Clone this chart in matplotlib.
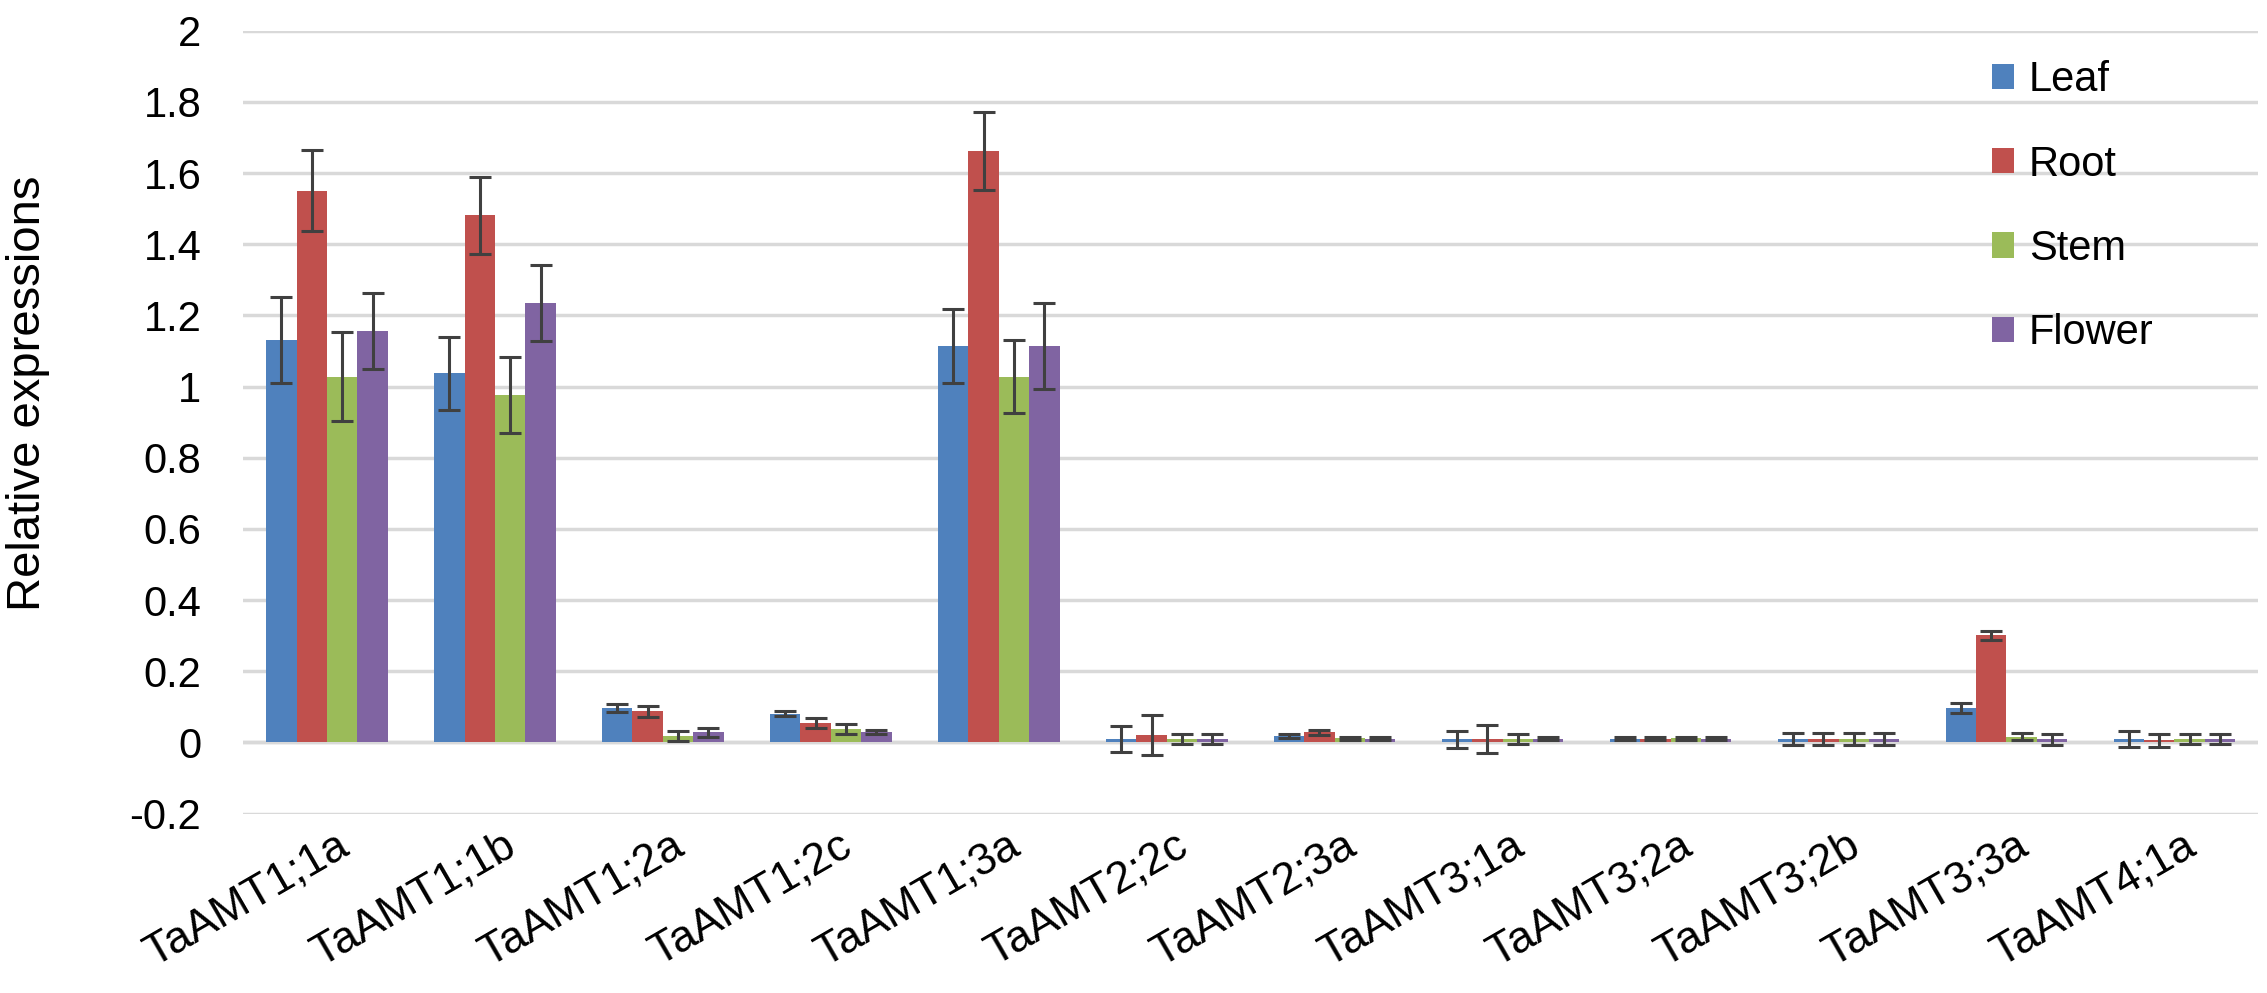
import numpy as np
import matplotlib
matplotlib.use("Agg")
import matplotlib.pyplot as plt
from matplotlib.patches import Patch
from matplotlib.transforms import ScaledTranslation

plt.rcParams['font.family'] = ['Liberation Sans', 'DejaVu Sans']

genes = ['TaAMT1;1a', 'TaAMT1;1b', 'TaAMT1;2a', 'TaAMT1;2c', 'TaAMT1;3a', 'TaAMT2;2c',
         'TaAMT2;3a', 'TaAMT3;1a', 'TaAMT3;2a', 'TaAMT3;2b', 'TaAMT3;3a', 'TaAMT4;1a']

leaf = [1.131, 1.037, 0.097, 0.081, 1.114, 0.010, 0.018, 0.009, 0.010, 0.010, 0.097, 0.010]
leaf_err = [0.120, 0.102, 0.012, 0.007, 0.105, 0.036, 0.006, 0.024, 0.004, 0.016, 0.013, 0.022]
root = [1.551, 1.481, 0.087, 0.054, 1.662, 0.020, 0.028, 0.009, 0.010, 0.010, 0.301, 0.006]
root_err = [0.115, 0.108, 0.015, 0.014, 0.110, 0.056, 0.008, 0.040, 0.004, 0.016, 0.012, 0.018]
stem = [1.028, 0.977, 0.018, 0.038, 1.028, 0.010, 0.011, 0.010, 0.012, 0.010, 0.016, 0.010]
stem_err = [0.125, 0.107, 0.014, 0.013, 0.103, 0.015, 0.004, 0.015, 0.004, 0.016, 0.010, 0.015]
flower = [1.157, 1.234, 0.028, 0.029, 1.114, 0.010, 0.010, 0.010, 0.010, 0.010, 0.009, 0.010]
flower_err = [0.107, 0.107, 0.013, 0.006, 0.120, 0.015, 0.004, 0.004, 0.004, 0.016, 0.016, 0.015]

series = [('Leaf', leaf, leaf_err, '#4F81BD'),
          ('Root', root, root_err, '#C0504D'),
          ('Stem', stem, stem_err, '#9BBB59'),
          ('Flower', flower, flower_err, '#8064A2')]

fig = plt.figure(figsize=(22.67, 9.93), dpi=100)
ax = fig.add_axes([0.1072, 0.1807, 0.889, 0.7883])

x = np.arange(len(genes))
w = 0.181
for i, (name, vals, errs, col) in enumerate(series):
    pos = x + (i - 1.5) * w
    ax.bar(pos, vals, width=w, color=col, zorder=2, label=name)
    ax.errorbar(pos, vals, yerr=errs, fmt='none', ecolor='#404040',
                elinewidth=2.2, capsize=8, capthick=2.2, zorder=3)

ax.set_xlim(-0.5, len(genes) - 0.5)
ax.set_ylim(-0.2, 2.0)
ax.set_yticks(np.arange(-0.2, 2.01, 0.2))
ax.set_yticklabels(['-0.2', '0', '0.2', '0.4', '0.6', '0.8', '1', '1.2', '1.4', '1.6', '1.8', '2'])
ax.yaxis.grid(True, color='#D9D9D9', linewidth=2.5, zorder=0)
ax.axhline(0, color='#D9D9D9', linewidth=2.5, zorder=1)
ax.set_axisbelow(True)
for s in ax.spines.values():
    s.set_visible(False)
ax.tick_params(axis='both', length=0)
ax.tick_params(axis='y', pad=30, labelsize=30)

ax.set_xticks(x)
ax.set_xticklabels(genes, rotation=30, ha='right', va='top', fontsize=32)
ax.tick_params(axis='x', pad=8)
offset = ScaledTranslation(0.28, 0, fig.dpi_scale_trans)
for lab in ax.get_xticklabels():
    lab.set_transform(lab.get_transform() + offset)

ax.set_ylabel('Relative expressions', fontsize=34)
ax.yaxis.set_label_coords(-0.0958, 0.537)

handles = [Patch(facecolor=c, label=n) for n, _, _, c in series]
ax.legend(handles=handles, loc='upper left', bbox_to_anchor=(0.849, 1.01),
          frameon=False, fontsize=30, handlelength=0.55, handleheight=0.55,
          handletextpad=0.35, labelspacing=1.06)

fig.savefig('out.png', dpi=100)
